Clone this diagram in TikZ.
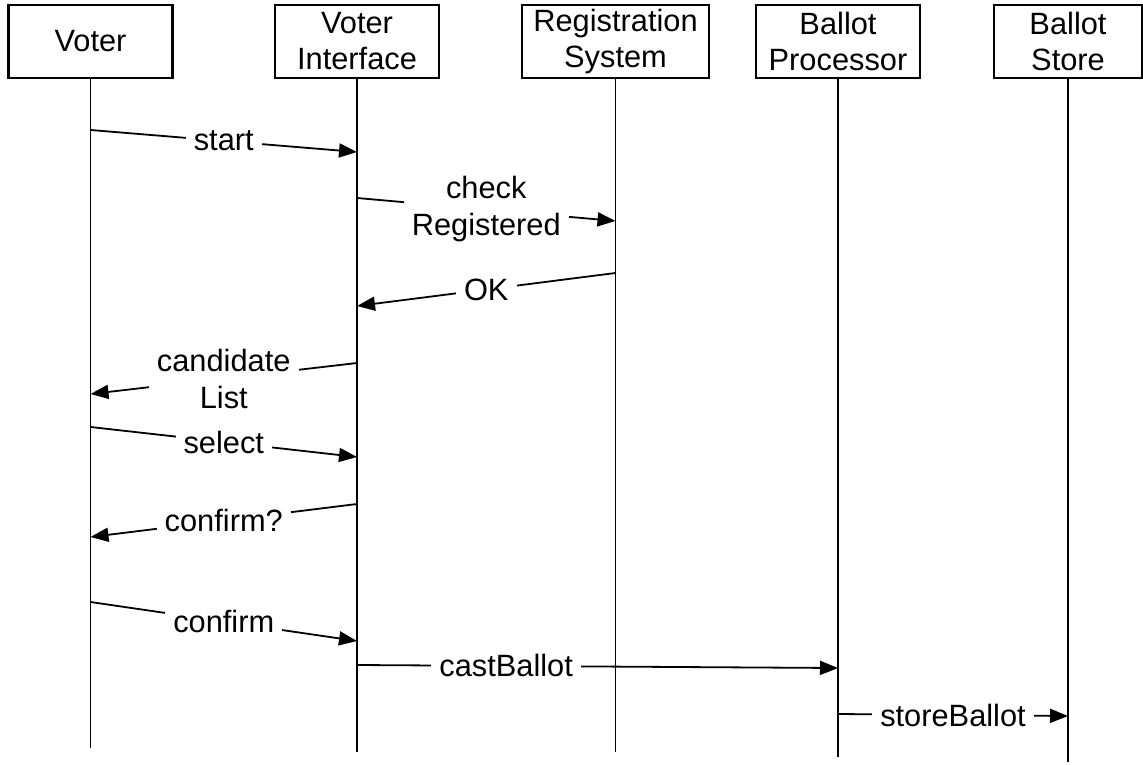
\documentclass[tikz,border=0pt]{standalone}
\usepackage{fontspec}
\setmainfont{Liberation Sans}
\usetikzlibrary{arrows.meta}

\begin{document}
\begin{tikzpicture}[x=0.5pt,y=-0.5pt,
  actor/.style={draw=black,line width=1.2pt,minimum width=82pt,minimum height=36.5pt,
    align=center,inner sep=2pt,font=\fontsize{15.4}{18}\selectfont},
  life/.style={line width=0.9pt},
  msg/.style={line width=0.9pt,-{Triangle[length=9pt,width=7pt]}},
  lbl/.style={fill=white,align=center,inner xsep=4pt,inner ysep=1pt,
    font=\fontsize{15.4}{18.5}\selectfont}]
\path[use as bounding box] (0,0) rectangle (1143,764);
% participants
\node[actor] (voter) at (90.5,41.5) {Voter};
\node[actor] (ui) at (357,41.5) {Voter\\Interface};
\node[actor,minimum width=93.5pt] (reg) at (615.5,41.5) {Registration\\System};
\node[actor] (proc) at (838,41.5) {Ballot\\Processor};
\node[actor,minimum width=74pt] (store) at (1068,41.5) {Ballot\\Store};
% lifelines
\foreach \n/\e in {voter/748,ui/752,reg/752,proc/757,store/762}{
  \coordinate (\n end) at (\n |- 0,\e);
  \draw[life] (\n) -- (\n end);
}
% messages
\draw[msg] (voter |- 0,130) -- node[lbl] {start} (ui |- 0,152);
\draw[msg] (ui |- 0,198) -- node[lbl] {check\\Registered} (reg |- 0,221);
\draw[msg] (reg |- 0,273) -- node[lbl] {OK} (ui |- 0,306);
\draw[msg] (ui |- 0,363) -- node[lbl] {candidate\\List} (voter |- 0,394);
\draw[msg] (voter |- 0,427) -- node[lbl] {select} (ui |- 0,457);
\draw[msg] (ui |- 0,504) -- node[lbl] {confirm?} (voter |- 0,537);
\draw[msg] (voter |- 0,602) -- node[lbl] {confirm} (ui |- 0,641);
\draw[msg] (ui |- 0,665) -- node[lbl,pos=0.31] {castBallot} (proc |- 0,668);
\draw[msg] (proc |- 0,714) -- node[lbl] {storeBallot} (store |- 0,716);
\end{tikzpicture}
\end{document}
